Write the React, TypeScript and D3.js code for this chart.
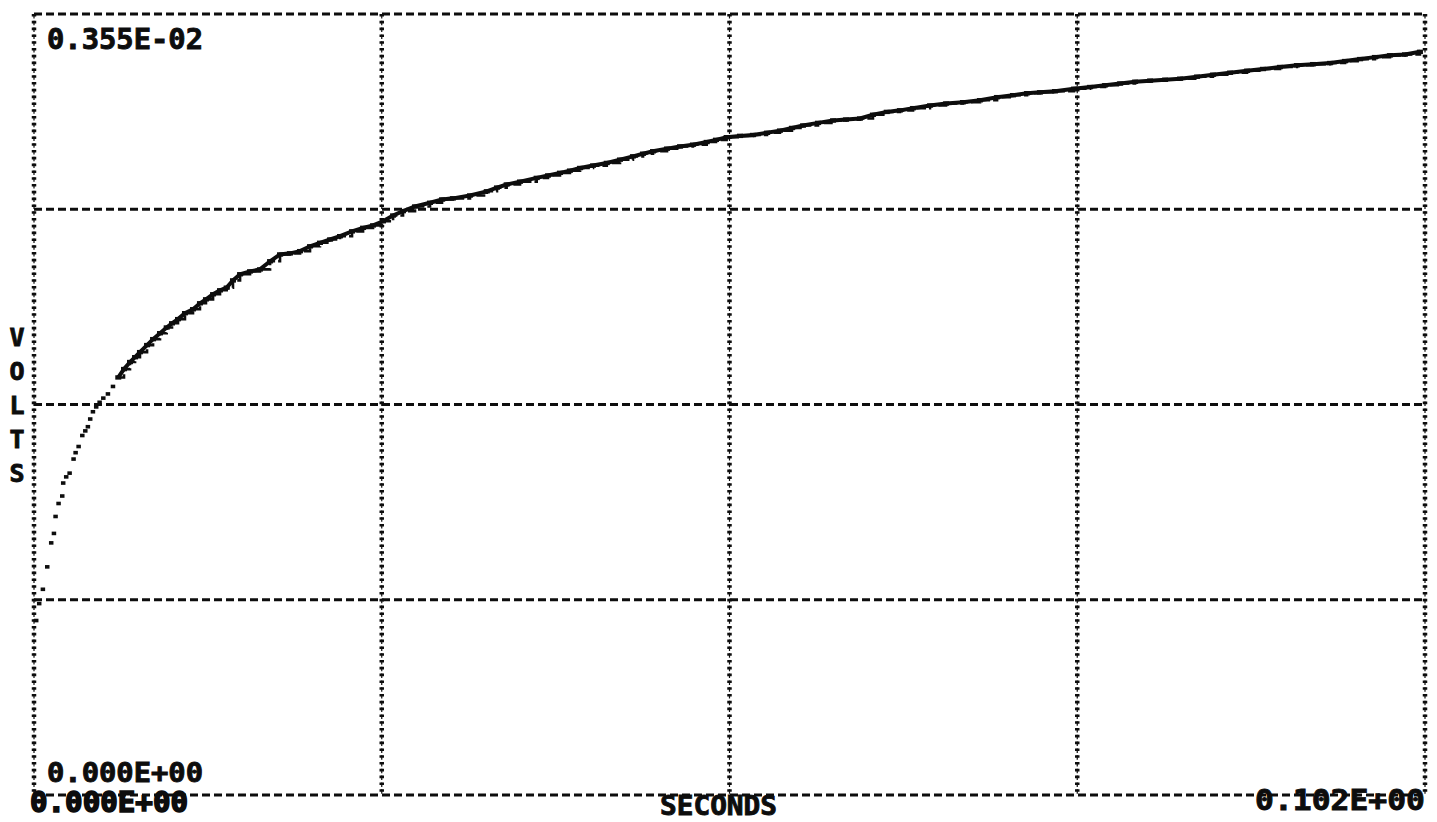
import React from 'react';
import * as d3 from 'd3';

// Recorded transient: sample time (ms) and amplitude (mV)
const timeMs = [
  0.07, 0.29, 0.56, 0.88, 1.17, 1.37, 1.49, 1.71, 1.98, 2.05, 2.27, 2.52, 2.81, 2.96, 3.18, 3.45,
  3.67, 3.86, 4.03, 4.23, 4.47, 4.72, 4.99, 5.33, 5.70, 6.18, 6.60, 7.04, 7.41, 7.77, 8.29, 8.73,
  9.24, 9.73, 10.12, 10.56, 11.07, 11.66, 12.17, 12.61, 13.13, 13.64, 14.13, 14.59, 15.11, 15.84,
  16.57, 17.31, 18.04, 18.77, 19.51, 20.24, 20.97, 21.71, 22.44, 23.32, 24.13, 24.86, 25.59, 26.33,
  27.06, 27.94, 29.04, 29.92, 30.72, 31.97, 33.20, 33.95, 34.66, 35.64, 36.86, 37.69, 38.57, 39.30,
  40.04, 40.99, 42.00, 42.97, 43.92, 44.66, 45.39, 46.42, 47.37, 48.32, 49.33, 50.01, 50.79, 51.77,
  52.72, 53.75, 54.70, 55.58, 56.39, 57.49, 58.59, 59.54, 60.57, 61.52, 62.53, 63.50, 64.46, 65.70,
  66.88, 68.12, 69.37, 70.62, 71.79, 72.82, 73.77, 74.87, 76.26, 77.44, 78.54, 79.64, 80.74, 81.84,
  82.94, 84.04, 85.28, 86.45, 87.70, 88.95, 90.12, 91.37, 92.61, 93.79, 95.04, 96.14, 97.24, 98.33,
  99.43, 100.53, 101.63,
];
const milliVolts = [
  0.793, 0.870, 0.935, 1.037, 1.146, 1.189, 1.266, 1.325, 1.359, 1.418, 1.446, 1.463, 1.527, 1.556, 1.584, 1.634,
  1.655, 1.674, 1.709, 1.742, 1.764, 1.785, 1.804, 1.823, 1.857, 1.898, 1.936, 1.968, 1.990, 2.013, 2.045, 2.072,
  2.099, 2.125, 2.144, 2.163, 2.190, 2.208, 2.235, 2.253, 2.276, 2.294, 2.306, 2.339, 2.367, 2.380,
  2.389, 2.426, 2.457, 2.462, 2.472, 2.494, 2.510, 2.525, 2.540, 2.562, 2.578, 2.589, 2.608, 2.634,
  2.654, 2.675, 2.692, 2.707, 2.712, 2.725, 2.744, 2.761, 2.775, 2.788, 2.805, 2.816, 2.828, 2.838,
  2.850, 2.861, 2.873, 2.888, 2.903, 2.915, 2.926, 2.938, 2.948, 2.956, 2.968, 2.978, 2.990, 2.996,
  3.000, 3.010, 3.020, 3.032, 3.043, 3.055, 3.066, 3.070, 3.075, 3.092, 3.105, 3.112, 3.122, 3.134,
  3.143, 3.149, 3.158, 3.172, 3.181, 3.190, 3.194, 3.199, 3.210, 3.218, 3.226, 3.234, 3.242, 3.247,
  3.251, 3.256, 3.265, 3.274, 3.283, 3.292, 3.300, 3.309, 3.317, 3.322, 3.327, 3.336, 3.345, 3.354,
  3.362, 3.366, 3.378,
];

// Full-scale ranges of the display
const timeRangeMs = [0, 102];
const voltRangeMv = [0, 3.55];
const gridDivisions = 4;

const xTitle = 'SECONDS';
const yTitle = ['V', 'O', 'L', 'T', 'S'];

// Instrument-style scientific notation: 0.355E-02
function sci(value: number): string {
  if (value === 0) return '0.000E+00';
  let e = Math.floor(Math.log10(Math.abs(value))) + 1;
  let m = value / Math.pow(10, e);
  if (Math.round(m * 1000) >= 1000) { m /= 10; e += 1; }
  const sign = e < 0 ? '-' : '+';
  return `${m.toFixed(3)}E${sign}${String(Math.abs(e)).padStart(2, '0')}`;
}

const W = 1437;
const H = 822;
const M = { left: 34, right: 12, top: 14, bottom: 27 };
const FONT = '"DejaVu Sans Mono", "Liberation Mono", monospace';
const INK = '#0d0d0d';

type Sample = { t: number; v: number };

export default function App() {
  const x = d3.scaleLinear().domain(timeRangeMs).range([M.left, W - M.right]);
  const y = d3.scaleLinear().domain(voltRangeMv).range([H - M.bottom, M.top]);

  const samples: Sample[] = timeMs.map((t, i) => ({ t, v: milliVolts[i] }));
  const traceStart = 6; // ms: beyond this the samples merge into a continuous trace
  const sparse = samples.filter(d => d.t < traceStart);
  const dense = samples.filter(d => d.t >= traceStart);
  const line = d3.line<Sample>().x(d => x(d.t)).y(d => y(d.v));
  // quantised staircase of the digitiser, overlaid on the trace
  const steps = d3.line<Sample>().x(d => x(d.t)).y(d => y(d.v)).curve(d3.curveStepAfter);

  const xGrid = d3.range(gridDivisions + 1).map(i => timeRangeMs[0] + (i * (timeRangeMs[1] - timeRangeMs[0])) / gridDivisions);
  const yGrid = d3.range(gridDivisions + 1).map(i => voltRangeMv[0] + (i * (voltRangeMv[1] - voltRangeMv[0])) / gridDivisions);

  const [x0, x1] = x.range();
  const [y0, y1] = y.range();

  return (
    <svg width={W} height={H} style={{ position: 'absolute', left: 0, top: 0, background: '#fff' }}>
      <rect width={W} height={H} fill="#fff" />
      {/* horizontal grid: dashed */}
      {yGrid.map((v, i) => (
        <line key={`h${i}`} x1={x0} x2={x1} y1={y(v)} y2={y(v)} stroke={INK} strokeWidth={2.8} strokeDasharray="8 4" />
      ))}
      {/* vertical grid: dotted */}
      {xGrid.map((t, i) => (
        <g key={`v${i}`}>
          <line x1={x(t)} x2={x(t)} y1={y1} y2={y0} stroke={INK} strokeWidth={4.5} strokeDasharray="2.6 4.2" />
          <line x1={x(t)} x2={x(t)} y1={y1} y2={y0} stroke={INK} strokeWidth={1.2} strokeDasharray="4.5 2.3" />
        </g>
      ))}

      {/* continuous part of the trace */}
      <path d={line(dense) ?? ''} fill="none" stroke={INK} strokeWidth={4} strokeLinejoin="miter" />
      <path d={steps(dense) ?? ''} fill="none" stroke={INK} strokeWidth={2.6} strokeDasharray="9 3" />
      {dense.map((d, i) => (
        <rect key={`d${i}`} x={x(d.t) - 3} y={y(d.v) - 2.2} width={6} height={4.4} fill={INK} />
      ))}
      {/* early samples, drawn as separate dashes */}
      {sparse.map((d, i) => (
        <rect key={`s${i}`} x={x(d.t) - 1} y={y(d.v) - 1.8} width={4.5} height={3.6} fill={INK} />
      ))}

      {/* scale labels */}
      <g fontFamily={FONT} fontWeight="bold" fill={INK} stroke={INK} strokeWidth={0.9}>
        <text x={47} y={49} fontSize={28} textLength={156} lengthAdjust="spacingAndGlyphs">{sci(voltRangeMv[1] / 1000)}</text>
        <text x={47} y={782} fontSize={26} textLength={156} lengthAdjust="spacingAndGlyphs">{sci(voltRangeMv[0] / 1000)}</text>
        <text x={30} y={812} fontSize={28} textLength={158} lengthAdjust="spacingAndGlyphs" strokeWidth={1.6}>{sci(timeRangeMs[0] / 1000)}</text>
        <text x={660} y={815} fontSize={27} textLength={117} lengthAdjust="spacingAndGlyphs">{xTitle}</text>
        <text x={1255} y={810} fontSize={28} textLength={170} lengthAdjust="spacingAndGlyphs">{sci(timeRangeMs[1] / 1000)}</text>
        {yTitle.map((c, i) => (
          <text key={c + i} x={17} y={346 + i * 34} fontSize={25} textAnchor="middle">{c}</text>
        ))}
      </g>
    </svg>
  );
}
